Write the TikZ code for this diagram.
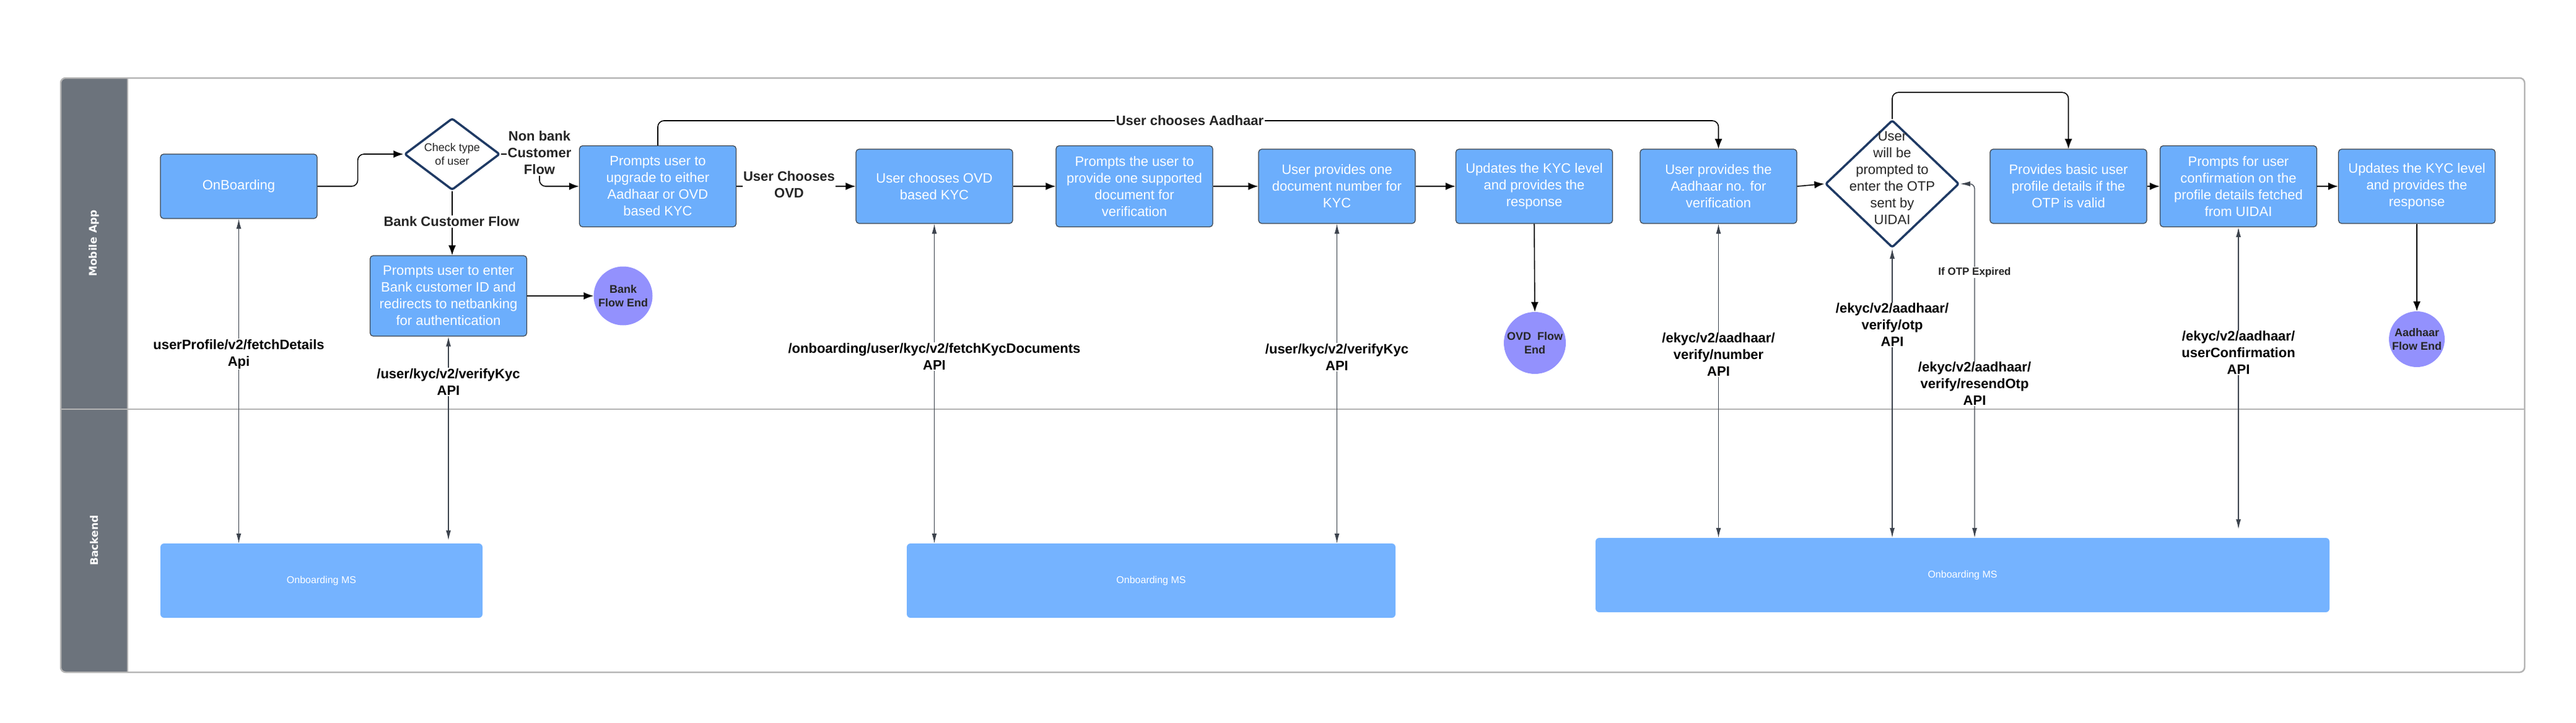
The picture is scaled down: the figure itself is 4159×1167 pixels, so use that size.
\documentclass[tikz,border=0pt]{standalone}
\usepackage{fontspec}
\setmainfont{Liberation Sans}
\newfontfamily\lanefont{DejaVu Sans}
\usetikzlibrary{arrows.meta,shapes.geometric}

\definecolor{boxblue}{HTML}{6CAEFC}
\definecolor{msblue}{HTML}{75B3FF}
\definecolor{endpurple}{HTML}{9391FD}
\definecolor{lanegray}{HTML}{6C737C}
\definecolor{framegray}{HTML}{B4B4B4}
\definecolor{checknavy}{HTML}{1F3A64}
\definecolor{apigray}{HTML}{3C434D}
\definecolor{edgegray}{HTML}{3A414A}
\definecolor{txtdark}{HTML}{262626}

\begin{document}
\begin{tikzpicture}[x=1pt,y=-1pt,
    kycbox/.style={draw=edgegray, line width=1.2pt, fill=boxblue, rounded corners=5pt,
        minimum width=253pt, inner sep=0pt, align=center, text=white,
        font=\fontsize{22}{27}\selectfont},
    msbox/.style={fill=msblue, rounded corners=6pt, inner sep=0pt, text=white,
        minimum height=120pt, font=\fontsize{16}{19}\selectfont},
    endnode/.style={circle, fill=endpurple, inner sep=0pt, align=center, text=txtdark,
        font=\bfseries\fontsize{18}{22}\selectfont},
    check/.style={diamond, draw=checknavy, line width=3.5pt, line join=round, fill=white,
        rounded corners=3pt, inner sep=0pt},
    flow/.style={draw=black, line width=1.6pt, rounded corners=10pt,
        -{Latex[length=16pt,width=12pt]}},
    api/.style={draw=apigray, line width=1.3pt, rounded corners=8pt,
        {Latex[length=16pt,width=8pt]}-{Latex[length=16pt,width=8pt]}},
    lbl/.style={fill=white, inner sep=1.5pt, align=center, text=txtdark,
        font=\bfseries\fontsize{22}{27}\selectfont},
    lane/.style={text=white, rotate=90, font=\lanefont\bfseries\fontsize{17}{20}\selectfont}
  ]
    \useasboundingbox (0,0) rectangle (4159,1167);

    % Swimlane frame
    \fill[white] (98,126) rectangle (4076,1086);
    \begin{scope}
        \clip[rounded corners=8pt] (98,126) rectangle (4076,1086);
        \fill[lanegray] (98,126) rectangle (206,1086);
    \end{scope}
    \draw[framegray, line width=2.5pt, rounded corners=8pt] (98,126) rectangle (4076,1086);
    \draw[framegray, line width=1.5pt] (206,126) -- (206,1086);
    \draw[framegray, line width=2.5pt] (98,661) -- (4076,661);
    \node[lane] (lane_app) at (152,393) {Mobile App};
    \node[lane] (lane_be) at (152,873) {Backend};

    % Mobile App steps
    \node[kycbox, minimum height=104pt] (on_board) at (385.5,301) {OnBoarding};
    \node[check, minimum width=154pt, minimum height=116pt,
        label={[align=center, text=txtdark, font=\fontsize{18}{22}\selectfont]center:{Check type\\of user}}]
        (dia_1) at (730,249) {};
    \node[kycbox, minimum height=130pt] (bank_box) at (724,478)
        {Prompts user to enter\\Bank customer ID and\\redirects to netbanking\\for authentication};
    \node[endnode, minimum size=95pt] (end_bank) at (1006,478) {Bank\\Flow End};
    \node[kycbox, minimum height=131pt] (upg_box) at (1062,301)
        {Prompts user to\\upgrade to either\\Aadhaar or OVD\\based KYC};
    \node[kycbox, minimum height=120pt] (ovd_box) at (1508.5,301) {User chooses OVD\\based KYC};
    \node[kycbox, minimum height=131pt] (doc_box) at (1831.5,301)
        {Prompts the user to\\provide one supported\\document for\\verification};
    \node[kycbox, minimum height=120pt] (num_box) at (2158.5,301)
        {User provides one\\document number for\\KYC};
    \node[kycbox, minimum height=120pt] (upd_box) at (2477,301)
        {Updates the KYC level\\and provides the\\response};
    \node[endnode, minimum size=100pt] (end_ovd) at (2478,554) {OVD\ \ Flow\\End};
    \node[kycbox, minimum height=120pt] (adh_box) at (2774.5,301)
        {User provides the\\Aadhaar no. for\\verification};
    \node[check, minimum width=216pt, minimum height=206pt,
        label={[align=center, text=txtdark, font=\fontsize{22}{27}\selectfont, yshift=9pt]center:{User\\will be\\prompted to\\enter the OTP\\sent by\\UIDAI}}]
        (dia_2) at (3055,297) {};
    \node[kycbox, minimum height=120pt] (prof_box) at (3339.5,301)
        {Provides basic user\\profile details if the\\OTP is valid};
    \node[kycbox, minimum height=131pt] (conf_box) at (3614,301)
        {Prompts for user\\confirmation on the\\profile details fetched\\from UIDAI};
    \node[kycbox, minimum height=120pt] (upd2_box) at (3902,301)
        {Updates the KYC level\\and provides the\\response};
    \node[endnode, minimum size=90pt] (end_adh) at (3902,548) {Aadhaar\\Flow End};

    % Backend services
    \node[msbox, minimum width=520pt] (ms_1) at (519,938) {Onboarding MS};
    \node[msbox, minimum width=789pt] (ms_2) at (1858.5,938) {Onboarding MS};
    \node[msbox, minimum width=1185pt] (ms_3) at (3168.5,929) {Onboarding MS};

    % Flow between steps
    \coordinate (nb_turn) at (871,301);
    \coordinate (aad_mid) at (1921,195);
    \draw[flow] (on_board.east) -- ++(65,0) |- (dia_1.west);
    \draw[flow] (dia_1.east) -| (nb_turn) -- (upg_box.west);
    \draw[flow] (dia_1.south) -- (dia_1.south |- bank_box.north);
    \draw[flow] (bank_box.east) -- (end_bank.west);
    \draw[flow] (upg_box.east) -- (ovd_box.west);
    \draw[flow] (upg_box.north) |- (aad_mid) -| (adh_box.north);
    \draw[flow] (ovd_box.east) -- (doc_box.west);
    \draw[flow] (doc_box.east) -- (num_box.west);
    \draw[flow] (num_box.east) -- (upd_box.west);
    \draw[flow] (upd_box.south) -- (end_ovd.north);
    \draw[flow] (adh_box.east) -- (dia_2.west);
    \draw[flow] (dia_2.north) -- ++(0,-43) -| (prof_box.north);
    \draw[flow] (prof_box.east) -- (conf_box.west);
    \draw[flow] (conf_box.east) -- (upd2_box.west);
    \draw[flow] (upd2_box.south) -- (end_adh.north);

    \node[lbl] (lbl_nb) at (871,247) {Non bank\\Customer\\Flow};
    \node[lbl] (lbl_bank) at (729,358) {Bank Customer Flow};
    \node[lbl] (lbl_ovd) at (1274,298) {User Chooses\\OVD};
    \node[lbl] (lbl_aad) at (aad_mid) {User chooses Aadhaar};

    % API calls to the backend
    \coordinate (re_x) at (3188,0);
    \draw[api] (on_board.south) -- (on_board.south |- ms_1.north);
    \draw[api, shorten >=5pt] (bank_box.south) -- (bank_box.south |- ms_1.north);
    \draw[api] (ovd_box.south) -- (ovd_box.south |- ms_2.north);
    \draw[api] (num_box.south) -- (num_box.south |- ms_2.north);
    \draw[api] (adh_box.south) -- (adh_box.south |- ms_3.north);
    \draw[api] (dia_2.south) -- (dia_2.south |- ms_3.north);
    \draw[api] (dia_2.east) -| (re_x |- ms_3.north);
    \draw[api, shorten >=14pt] (conf_box.south) -- (conf_box.south |- ms_3.north);

    \node[lbl, text=black] (api_1) at (385.5,572) {userProfile/v2/fetchDetails\\Api};
    \node[lbl, text=black] (api_2) at (724,617) {/user/kyc/v2/verifyKyc\\API};
    \node[lbl, text=black] (api_3) at (1508.5,576) {/onboarding/user/kyc/v2/fetchKycDocuments\\API};
    \node[lbl, text=black] (api_4) at (2158.5,577) {/user/kyc/v2/verifyKyc\\API};
    \node[lbl, text=black] (api_5) at (2774.5,573) {/ekyc/v2/aadhaar/\\verify/number\\API};
    \node[lbl, text=black] (api_6) at (3055,525) {/ekyc/v2/aadhaar/\\verify/otp\\API};
    \node[lbl, font=\bfseries\fontsize{17}{21}\selectfont] (lbl_exp) at (3188,440) {If OTP Expired};
    \node[lbl, text=black] (api_7) at (3188,620) {/ekyc/v2/aadhaar/\\verify/resendOtp\\API};
    \node[lbl, text=black] (api_8) at (3614,570) {/ekyc/v2/aadhaar/\\userConfirmation\\API};
\end{tikzpicture}
\end{document}
